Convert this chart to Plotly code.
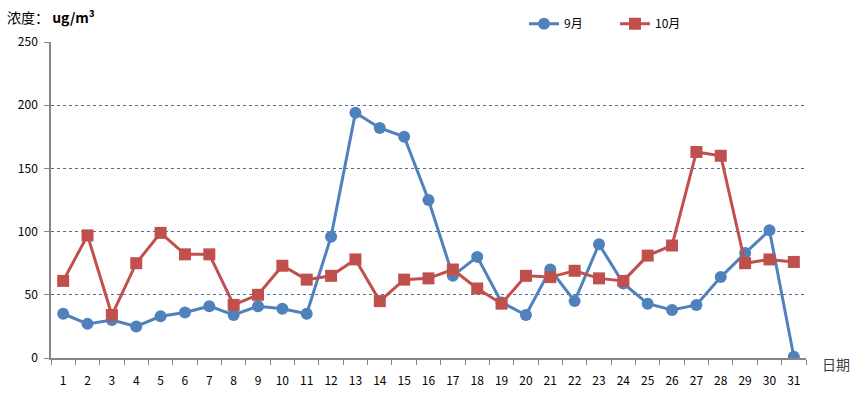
import plotly.graph_objects as go

days = [str(i) for i in range(1, 32)]
sep = [35, 27, 30, 25, 33, 36, 41, 34, 41, 39, 35, 96, 194, 182, 175, 125,
       65, 80, 44, 34, 70, 45, 90, 59, 43, 38, 42, 64, 83, 101, 1]
oct_ = [61, 97, 34, 75, 99, 82, 82, 42, 50, 73, 62, 65, 78, 45, 62, 63,
        70, 55, 43, 65, 64, 69, 63, 61, 81, 89, 163, 160, 75, 78, 76]
y_ticks = [0, 50, 100, 150, 200, 250]

BLUE = "#4F81BD"
RED = "#C0504D"
FONT = "Noto Sans CJK SC, Liberation Sans, sans-serif"

fig = go.Figure()
fig.add_trace(go.Scatter(x=days, y=sep, name="9月", mode="lines+markers",
                         line=dict(color=BLUE, width=3),
                         marker=dict(symbol="circle", size=12, color=BLUE)))
fig.add_trace(go.Scatter(x=days, y=oct_, name="10月", mode="lines+markers",
                         line=dict(color=RED, width=3),
                         marker=dict(symbol="square", size=12, color=RED)))

fig.update_layout(
    width=868, height=394,
    margin=dict(l=51, r=62, t=41.5, b=36, autoexpand=False),
    paper_bgcolor="white", plot_bgcolor="white",
    font=dict(family=FONT, size=12, color="#000"),
    showlegend=True,
    legend=dict(orientation="h", x=0.747, xanchor="center", y=0.94, yanchor="middle",
                yref="container", font=dict(size=12),
                itemwidth=30, bgcolor="rgba(0,0,0,0)",
                entrywidth=46),
    xaxis=dict(type="category", tickson="boundaries", ticks="outside",
               ticklen=5, tickcolor="#868686", showline=True, linecolor="#868686",
               linewidth=1.5, showgrid=False, ticklabelstandoff=11,
               tickfont=dict(size=12), range=[-0.5, 30.5]),
    yaxis=dict(range=[0, 250], tickvals=y_ticks, ticks="outside", ticklen=5,
               tickcolor="#868686", showline=True, linecolor="#868686",
               linewidth=1.5, showgrid=True, gridcolor="#4A6F9A",
               griddash="dot", gridwidth=1, zeroline=False,
               tickfont=dict(size=12), ticklabelstandoff=4),
)

fig.add_annotation(text="浓度： <b>ug/m³</b>", xref="paper", yref="paper",
                   x=0, y=1, xshift=-46, yshift=25, xanchor="left", yanchor="middle",
                   showarrow=False, font=dict(size=14, family=FONT, color="#000"))
fig.add_annotation(text="日期", xref="paper", yref="paper",
                   x=1, y=0, xshift=14, yshift=-6, xanchor="left", yanchor="middle",
                   showarrow=False, font=dict(size=14, family=FONT, color="#404040"))

fig.write_html("out.html", post_script="document.body.style.margin='0';",
               config={"displayModeBar": False})
